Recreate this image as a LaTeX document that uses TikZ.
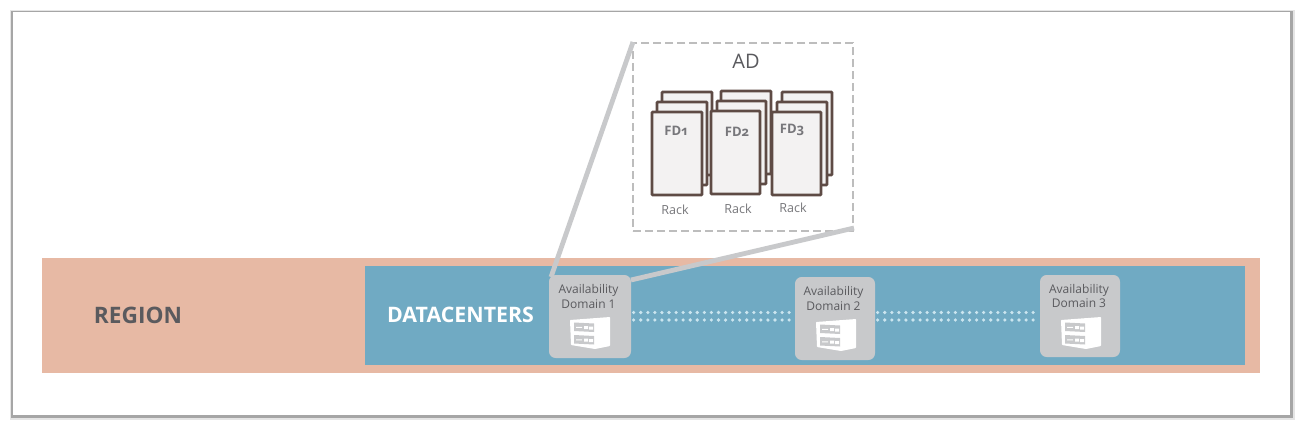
\documentclass[tikz,border=0pt]{standalone}
\usepackage{fontspec}
\setmainfont{Open Sans}
\newfontfamily\oldnum[Numbers=OldStyle]{Open Sans}
\definecolor{regionc}{HTML}{E7B9A4}
\definecolor{dcc}{HTML}{70AAC3}
\definecolor{adc}{HTML}{C8C9CB}
\definecolor{rackline}{HTML}{5E4B45}
\definecolor{rackfill}{HTML}{F3F2F2}
\definecolor{txtc}{HTML}{5A5A5E}
\definecolor{fdc}{HTML}{77777B}
\definecolor{dashc}{HTML}{BDBDBD}
\definecolor{dotc}{HTML}{CBE5EF}
\tikzset{
  x=0.75pt,y=-0.75pt,
  band/.style={draw=none,inner sep=0,outer sep=0},
  adbox/.style={fill=adc,rounded corners=5pt,inner sep=0,outer sep=0},
  adlabel/.style={text=txtc,font=\fontsize{9pt}{10.8pt}\selectfont,align=center,inner sep=0},
  zoomline/.style={draw=adc,line width=3.6pt},
  dotline/.style={draw=dotc,line width=2.7pt,line cap=round,dash pattern=on 0pt off 5.3pt},
  rackbox/.style={draw=rackline,fill=rackfill,line width=2.1pt,rounded corners=0.6pt},
  racklabel/.style={text=fdc,font=\fontsize{9.4pt}{10pt}\selectfont,inner sep=0},
  fdlabel/.style={text=fdc,font=\oldnum\bfseries\fontsize{9.8pt}{10pt}\selectfont,inner sep=0},
  pics/servericon/.style={code={
    \fill[white,rounded corners=0.5pt] (0,3) -- (40,0) -- (40,29) -- (25,32) -- (1,28) -- cycle;
    \fill[adc] (4,5.5) -- (24,6.5) -- (24,15) -- (4,14) -- cycle;
    \fill[adc] (4,18) -- (24,19) -- (24,27.5) -- (4,26.5) -- cycle;
    \fill[white] (14,9) rectangle (18,12) (19,9.5) rectangle (23,12.5);
    \fill[white] (14,21.5) rectangle (18,24.5) (19,22) rectangle (23,25);
    \fill[white] (6,9.8) rectangle (12,10.8) (6,22.3) rectangle (12,23.3);
  }}
}
\begin{document}
\begin{tikzpicture}
\useasboundingbox (0,0) rectangle (1302,429);
\fill[white] (0,0) rectangle (1302,429);
% frame with soft shadow
\fill[black!10] (10,10) rectangle (1294.5,420);
\fill[black!35] (10.5,10.5) rectangle (1292.5,418);
\fill[white] (12.5,11.5) rectangle (1290,415);

\node[band,fill=regionc,minimum width=1218*0.75pt,minimum height=115*0.75pt] (region) at (651,315.5) {};
\node[band,fill=dcc,minimum width=880*0.75pt,minimum height=99*0.75pt] (dc) at (805,315.5) {};
\node[text=txtc,font=\bfseries\fontsize{17pt}{20pt}\selectfont,inner sep=0] (regionlabel) at (138,315) {REGION};
\node[text=white,font=\bfseries\fontsize{16pt}{20pt}\selectfont,inner sep=0] (dclabel) at (460.5,315) {DATACENTERS};

% zoomed box
\node[draw=dashc,dash pattern=on 6pt off 3pt,line width=1.5pt,fill=white,minimum width=220*0.75pt,minimum height=188*0.75pt,inner sep=0,outer sep=0] (adzoom) at (743,137) {};
\node[adbox,minimum width=82*0.75pt,minimum height=83*0.75pt] (ad1) at (590,316.5) {};
\node[adbox,minimum width=80*0.75pt,minimum height=83*0.75pt] (ad2) at (835,318.5) {};
\node[adbox,minimum width=80*0.75pt,minimum height=82*0.75pt] (ad3) at (1080,316) {};

\draw[zoomline] (ad1.north west) ++(2,2) coordinate (z1) (adzoom.north west) ++(0,-1) coordinate (z2) (z1) -- (z2);
\path (ad1.north east) ++(0,5) coordinate (z3) (adzoom.south east) ++(1,-3) coordinate (z4);
\draw[zoomline] (z3) -- (z4);

\node[adlabel] (ad1t) at (588.5,296.5) {Availability\\Domain 1};
\node[adlabel] (ad2t) at (833.5,298.5) {Availability\\Domain 2};
\node[adlabel] (ad3t) at (1079,296) {Availability\\Domain 3};
\pic at (570,317) {servericon};
\pic at (816,319) {servericon};
\pic at (1061,317) {servericon};

% dotted links
\coordinate (a1) at (ad1.east |- 0,312.5);
\coordinate (a2) at (ad1.east |- 0,320);
\coordinate (b1) at (ad2.west |- 0,312.5);
\coordinate (b2) at (ad2.west |- 0,320);
\coordinate (c1) at (ad2.east |- 0,312.5);
\coordinate (c2) at (ad2.east |- 0,320);
\coordinate (e1) at (ad3.west |- 0,312.5);
\coordinate (e2) at (ad3.west |- 0,320);
\draw[dotline] ([xshift=2pt]a1) -- ([xshift=-3pt]b1);
\draw[dotline] ([xshift=2pt]a2) -- ([xshift=-3pt]b2);
\draw[dotline] ([xshift=2pt]c1) -- (e1);
\draw[dotline] ([xshift=2pt]c2) -- (e2);

% rack stacks
\node[text=txtc,font=\fontsize{15pt}{18pt}\selectfont,inner sep=0] (adt) at (746,61) {AD};
\draw[rackbox] (662,92) rectangle (712,175);
\draw[rackbox] (657,102) rectangle (707,185);
\draw[rackbox] (652,112) rectangle (702,195);
\draw[rackbox] (721,91) rectangle (771,174);
\draw[rackbox] (717,101) rectangle (766,184);
\draw[rackbox] (711,111) rectangle (760,194);
\draw[rackbox] (782,92) rectangle (832,175);
\draw[rackbox] (777,102) rectangle (827,185);
\draw[rackbox] (772,112) rectangle (821,195);
\node[fdlabel] (fd1) at (676,131) {FD1};
\node[fdlabel] (fd2) at (737,132) {FD2};
\node[fdlabel] (fd3) at (792,130) {FD3};
\node[racklabel] (r1) at (675,209.5) {Rack};
\node[racklabel] (r2) at (738,208.5) {Rack};
\node[racklabel] (r3) at (793,207.5) {Rack};
\end{tikzpicture}
\end{document}
